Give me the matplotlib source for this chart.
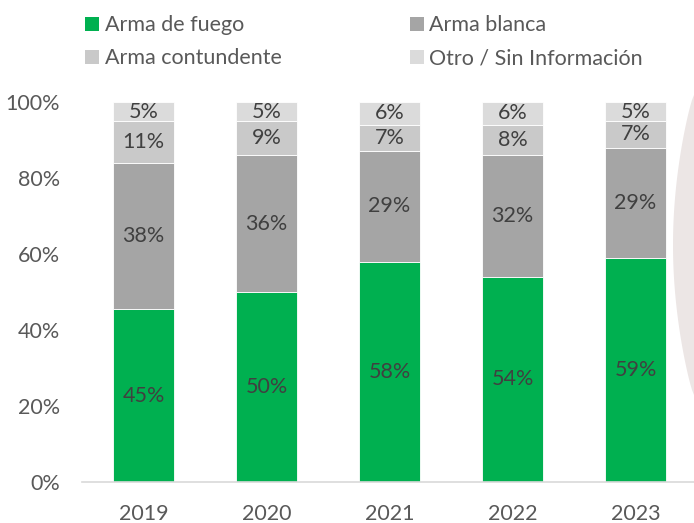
import matplotlib
matplotlib.use("Agg")
import matplotlib.pyplot as plt
from matplotlib.patches import Patch, Polygon
import numpy as np

years = ["2019", "2020", "2021", "2022", "2023"]
arma_fuego = [45, 50, 58, 54, 59]
arma_blanca = [38, 36, 29, 32, 29]
arma_contundente = [11, 9, 7, 8, 7]
otro_sin_info = [5, 5, 6, 6, 5]
series_names = ["Arma de fuego", "Arma blanca", "Arma contundente", "Otro / Sin Información"]
colors = ["#00B050", "#A5A5A5", "#C9C9C9", "#DBDBDB"]
yticks = [0, 0.2, 0.4, 0.6, 0.8, 1.0]
ytick_labels = ["0%", "20%", "40%", "60%", "80%", "100%"]

plt.rcParams['font.family'] = ['Lato', 'DejaVu Sans']

W, H = 694, 523
fig = plt.figure(figsize=(W / 100, H / 100), dpi=100)

# background decoration on right edge (figure pixel coords)
t = np.linspace(0, 1, 60)
ys = 95 + t * (395 - 95)
xs = 694 - 21 * np.sin(np.pi * t) ** 0.8
pts = [(x / W, 1 - y / H) for x, y in zip(xs, ys)]
pts += [(1.0, 1 - 395 / H), (1.0, 1 - 95 / H)]
fig.patches.append(Polygon(pts, closed=True, transform=fig.transFigure,
                           facecolor="#ECE6E5", edgecolor="none", zorder=0))

ax = fig.add_axes([82 / W, (H - 482) / H, 615 / W, 380 / H])
ax.patch.set_alpha(0)

data = np.array([arma_fuego, arma_blanca, arma_contundente, otro_sin_info], dtype=float)
totals = data.sum(axis=0)
norm = data / totals
x = np.arange(len(years))
bottom = np.zeros(len(years))
FS = 15.5
for i, (name, col) in enumerate(zip(series_names, colors)):
    bars = ax.bar(x, norm[i], 0.495, bottom=bottom, color=col, label=name,
                  edgecolor="white", linewidth=0.6, zorder=2)
    for j, b in enumerate(bars):
        ax.text(b.get_x() + b.get_width() / 2, bottom[j] + norm[i][j] / 2,
                f"{int(data[i][j])}%", ha="center", va="center",
                fontsize=FS, color="#404040", zorder=3)
    bottom += norm[i]

ax.set_xlim(-0.5, 4.5)
ax.set_ylim(0, 1)
ax.set_yticks(yticks)
ax.set_yticklabels(ytick_labels)
ax.set_xticks(x)
ax.set_xticklabels(years)
ax.tick_params(axis="both", length=0, labelsize=FS, colors="#595959")
ax.tick_params(axis="y", pad=16)
ax.tick_params(axis="x", pad=16)
for s in ["top", "right", "left"]:
    ax.spines[s].set_visible(False)
ax.spines["bottom"].set_color("#D9D9D9")
ax.spines["bottom"].set_linewidth(1.2)

handles = [Patch(facecolor=c, edgecolor="none") for c in colors]
order = [0, 2, 1, 3]
leg = fig.legend([handles[k] for k in order], [series_names[k] for k in order],
                 ncol=2, loc="upper left", bbox_to_anchor=(66 / W, 1 + 4 / H),
                 frameon=False, fontsize=FS, handlelength=0.65, handleheight=0.65,
                 handletextpad=0.25, columnspacing=5.95, labelspacing=0.6,
                 labelcolor="#595959")

fig.savefig("out.png", dpi=100)
